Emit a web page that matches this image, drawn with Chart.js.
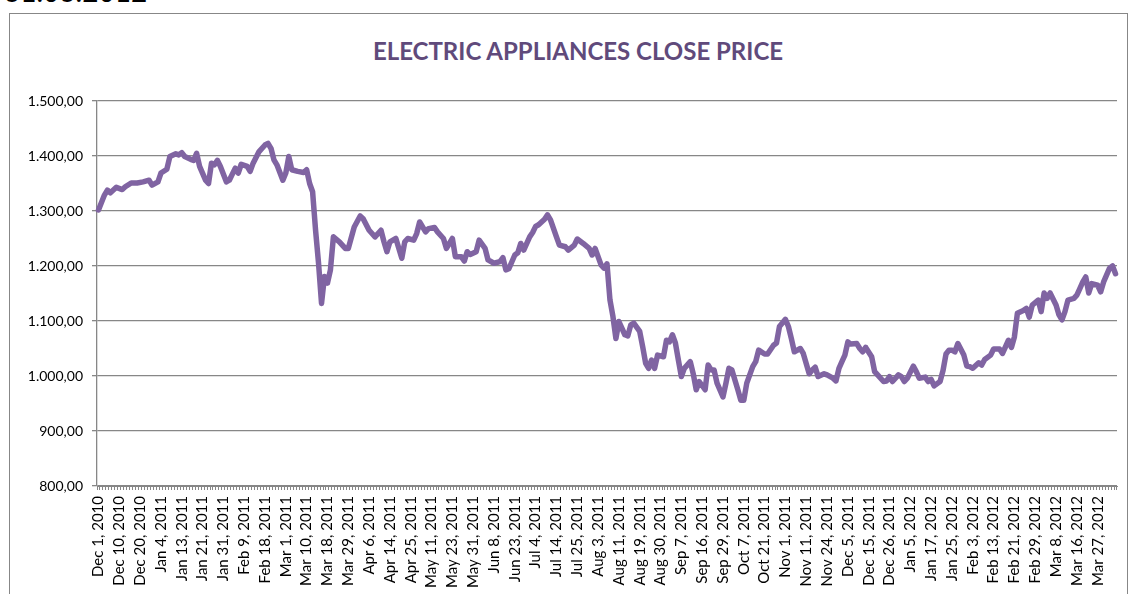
<!DOCTYPE html>
<html>
<head>
<meta charset="utf-8">
<script src="https://cdn.jsdelivr.net/npm/chart.js@4"></script>
<style>
    html, body { margin: 0; padding: 0; background: #fff; overflow: hidden; }
    #wrap { position: relative; width: 1135px; height: 594px; }
    #frame { position: absolute; left: 9px; top: 13px; width: 1117px; height: 640px; border: 1.5px solid #878787; }
    #stamp { position: absolute; left: 4px; top: -23px; font: 28px Lato, sans-serif; line-height: 28px; color: #000; }
    #title {
        position: absolute; left: 328px; width: 500px; top: 37px;
        text-align: center; white-space: nowrap;
        font: bold 24px Lato, "Liberation Sans", sans-serif; line-height: 28px; color: #604A7B;
    }
    #chart { position: absolute; left: 0; top: 0; }
</style>
</head>
<body>
<div id="wrap">
    <div id="stamp">31.03.2012</div>
    <div id="frame"></div>
    <div id="title">ELECTRIC APPLIANCES CLOSE PRICE</div>
    <canvas id="chart" width="1135" height="594"></canvas>
</div>
<script>
    // trading-day index (0 = Dec 1, 2010) of each point
    const dayIndex = [
        0, 2, 3, 4, 6, 8, 9, 11, 13, 15,
        17, 18, 20, 21, 23, 24, 26, 27, 28, 29,
        31, 32, 33, 34, 36, 37, 38, 39, 40, 41,
        43, 44, 46, 47, 48, 50, 51, 52, 54, 56,
        57, 58, 59, 60, 62, 63, 64, 65, 67, 69,
        70, 71, 72, 73, 74, 75, 76, 77, 78, 79,
        81, 83, 84, 86, 88, 89, 91, 93, 95, 96,
        97, 98, 100, 102, 103, 104, 106, 107, 108, 110,
        111, 113, 114, 116, 117, 119, 120, 122, 123, 124,
        125, 127, 128, 130, 131, 133, 135, 136, 137, 138,
        140, 141, 142, 143, 145, 146, 147, 148, 150, 151,
        152, 154, 155, 157, 158, 160, 161, 163, 165, 166,
        167, 169, 170, 171, 172, 173, 174, 175, 177, 178,
        179, 180, 182, 183, 184, 185, 186, 187, 188, 190,
        191, 192, 193, 194, 195, 196, 197, 199, 200, 201,
        202, 204, 205, 206, 207, 208, 210, 211, 212, 213,
        215, 216, 217, 218, 220, 221, 222, 224, 225, 227,
        228, 229, 231, 232, 233, 234, 236, 237, 239, 240,
        241, 242, 244, 245, 247, 248, 249, 250, 251, 252,
        253, 255, 256, 257, 258, 260, 261, 262, 264, 265,
        266, 267, 269, 270, 271, 272, 274, 275, 276, 278,
        279, 280, 281, 283, 284, 285, 286, 287, 288, 289,
        291, 292, 293, 294, 296, 297, 298, 300, 301, 303,
        304, 306, 307, 308, 309, 311, 312, 313, 314, 316,
        317, 318, 319, 320, 322, 323, 324, 325, 326, 328,
        329, 330, 331, 332, 333, 334, 336, 337, 338, 340,
        341, 342
    ];
    const closePrice = [
        1302, 1329, 1338, 1333, 1343, 1339, 1344, 1351, 1351, 1353,
        1356, 1347, 1353, 1369, 1376, 1399, 1404, 1402, 1406, 1399,
        1394, 1392, 1405, 1381, 1356, 1350, 1387, 1384, 1392, 1381,
        1353, 1356, 1378, 1369, 1385, 1381, 1372, 1387, 1408, 1420,
        1423, 1414, 1393, 1384, 1356, 1369, 1399, 1375, 1372, 1370,
        1375, 1350, 1335, 1265, 1205, 1132, 1181, 1169, 1193, 1253,
        1244, 1232, 1232, 1271, 1291, 1286, 1265, 1253, 1265, 1244,
        1226, 1244, 1250, 1214, 1244, 1250, 1247, 1259, 1280, 1262,
        1268, 1270, 1262, 1250, 1232, 1250, 1217, 1217, 1209, 1226,
        1221, 1226, 1247, 1232, 1211, 1205, 1208, 1215, 1193, 1195,
        1220, 1224, 1241, 1229, 1253, 1261, 1272, 1275, 1285, 1293,
        1284, 1253, 1238, 1235, 1229, 1238, 1249, 1241, 1232, 1220,
        1232, 1202, 1196, 1204, 1138, 1108, 1068, 1099, 1075, 1073,
        1093, 1096, 1081, 1053, 1023, 1014, 1029, 1014, 1038, 1035,
        1065, 1062, 1075, 1060, 1029, 999, 1014, 1026, 1004, 975,
        990, 975, 1020, 1011, 1011, 987, 962, 987, 1014, 1011,
        975, 956, 956, 987, 1017, 1026, 1047, 1040, 1040, 1056,
        1060, 1090, 1103, 1090, 1068, 1044, 1050, 1041, 1004, 1011,
        1016, 999, 1004, 1002, 996, 991, 1014, 1026, 1038, 1062,
        1058, 1059, 1050, 1044, 1052, 1035, 1008, 1002, 990, 991,
        999, 990, 1002, 999, 990, 996, 1018, 1008, 996, 998,
        990, 994, 982, 990, 1010, 1040, 1047, 1047, 1044, 1059,
        1038, 1018, 1017, 1014, 1024, 1020, 1030, 1038, 1049, 1049,
        1041, 1065, 1052, 1071, 1114, 1119, 1123, 1107, 1129, 1138,
        1117, 1151, 1141, 1151, 1129, 1111, 1102, 1117, 1138, 1141,
        1147, 1159, 1171, 1180, 1151, 1168, 1165, 1153, 1171, 1196,
        1200, 1186
    ];
    // one label every 7 trading days
    const tickLabels = [
        "Dec 1, 2010", "Dec 10, 2010", "Dec 20, 2010", "Jan 4, 2011", "Jan 13, 2011",
        "Jan 21, 2011", "Jan 31, 2011", "Feb 9, 2011", "Feb 18, 2011", "Mar 1, 2011",
        "Mar 10, 2011", "Mar 18, 2011", "Mar 29, 2011", "Apr 6, 2011", "Apr 14, 2011",
        "Apr 25, 2011", "May 11, 2011", "May 23, 2011", "May 31, 2011", "Jun 8, 2011",
        "Jun 23, 2011", "Jul 4, 2011", "Jul 14, 2011", "Jul 25, 2011", "Aug 3, 2011",
        "Aug 11, 2011", "Aug 19, 2011", "Aug 30, 2011", "Sep 7, 2011", "Sep 16, 2011",
        "Sep 29, 2011", "Oct 7, 2011", "Oct 21, 2011", "Nov 1, 2011", "Nov 11, 2011",
        "Nov 24, 2011", "Dec 5, 2011", "Dec 15, 2011", "Dec 26, 2011", "Jan 5, 2012",
        "Jan 17, 2012", "Jan 25, 2012", "Feb 3, 2012", "Feb 13, 2012", "Feb 21, 2012",
        "Feb 29, 2012", "Mar 8, 2012", "Mar 16, 2012", "Mar 27, 2012"
    ];
    const yTickValues = [800, 900, 1000, 1100, 1200, 1300, 1400, 1500];
    const dayCount = 343;
    const labelEvery = 7;

    let axisColor = "#878787";
    let fontFamily = "Lato, 'Liberation Sans', sans-serif";

    // 1500 -> "1.500,00"
    function formatPrice(v) {
        let whole = v >= 1000
            ? Math.floor(v / 1000) + "." + String(v % 1000).padStart(3, "0")
            : String(v);
        return whole + ",00";
    }

    // every trading day is a category, only every 7th one carries a label
    const dayLabels = [];
    const series = [];
    for (let d = 0; d < dayCount; d++) {
        let name = d % labelEvery === 0 ? tickLabels[d / labelEvery] : "";
        dayLabels.push(name || "");
        series.push(null);
    }
    dayIndex.forEach(function (d, i) {
        series[d] = closePrice[i];
    });

    new Chart(document.getElementById("chart"), {
        type: "line",
        data: {
            labels: dayLabels,
            datasets: [
                {
                    label: "Close",
                    data: series,
                    spanGaps: true,
                    borderColor: "#8064A2",
                    backgroundColor: "#8064A2",
                    borderWidth: 5.5,
                    pointRadius: 0,
                    tension: 0,
                    borderJoinStyle: "round",
                    borderCapStyle: "round",
                },
            ],
        },
        options: {
            responsive: false,
            animation: false,
            layout: { padding: { left: 0, right: 18, top: 101, bottom: 0 } },
            plugins: {
                legend: { display: false },
                tooltip: { enabled: false },
                title: { display: false },
            },
            scales: {
                x: {
                    type: "category",
                    offset: true,
                    afterFit: function (scale) {
                        scale.height = 108;
                        scale.paddingLeft = 0;
                        scale.paddingRight = 0;
                    },
                    grid: { offset: true, drawOnChartArea: false, drawTicks: true, tickLength: 4, color: axisColor },
                    border: { color: axisColor, width: 1 },
                    ticks: {
                        z: 1,
                        autoSkip: false,
                        minRotation: 90,
                        maxRotation: 90,
                        padding: 6,
                        color: "#000",
                        font: { family: fontFamily, size: 15 },
                    },
                },
                y: {
                    min: 800,
                    max: 1500,
                    afterBuildTicks: function (scale) {
                        scale.ticks = yTickValues.map((v) => ({ value: v }));
                    },
                    afterFit: function (scale) {
                        scale.width = 97;
                    },
                    grid: { color: axisColor, lineWidth: 1.3, tickLength: 5 },
                    border: { color: axisColor, width: 1.3 },
                    ticks: { padding: 9, color: "#000", font: { family: fontFamily, size: 14 }, callback: formatPrice },
                },
            },
        },
    });
</script>
</body>
</html>
